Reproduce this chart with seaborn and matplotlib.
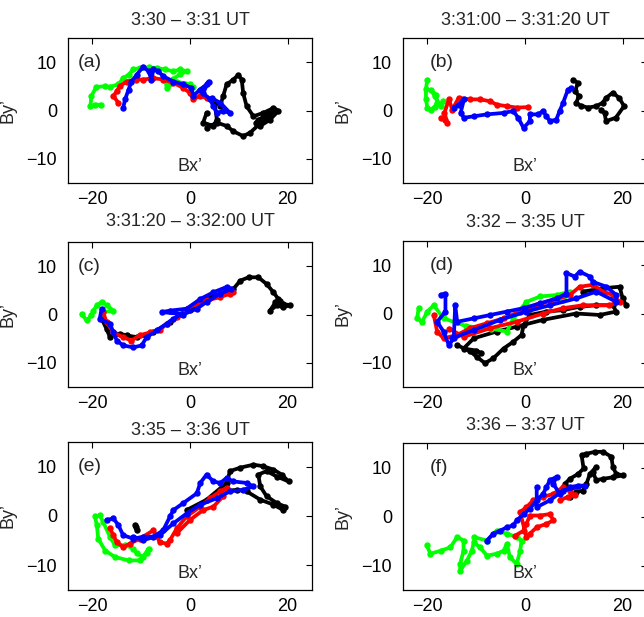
import numpy as np
import matplotlib
matplotlib.use("Agg")
import matplotlib.pyplot as plt
import seaborn as sns

# hodogram data, (Bx', By') pairs per spacecraft colour
A_BLACK = np.array([(3.4, -0.5), (2.7, -2.5), (4.8, -3.2), (5.5, -1.9), (5.0, 2.0), (6.2, 1.0), (6.8, 3.0), (7.5, 5.4),
                    (8.9, 6.4), (9.9, 7.4), (10.6, 6.4), (10.9, 3.6), (11.6, 0.9), (13.0, -1.2), (15.0, -0.5),
                    (17.1, 0.5), (18.1, -0.1), (16.4, -1.9), (14.4, -3.2), (13.5, -2.5), (16.5, -0.5), (14.0, -2.0),
                    (17.5, 0.2), (12.3, -4.6), (10.9, -5.3), (8.9, -4.3), (7.5, -3.2), (5.5, -2.5), (3.4, -3.6)])
A_GREEN = np.array([(-19.5, 1.2), (-18.2, 1.2), (-20.4, 1.0), (-20.2, 3.0), (-19.2, 4.9), (-17.5, 5.0), (-16.4, 4.9),
                    (-14.7, 5.4), (-13.7, 6.7), (-12.6, 7.4), (-11.6, 8.5), (-10.3, 8.8), (-8.5, 8.9), (-6.8, 8.8),
                    (-5.1, 8.5), (-3.4, 8.1), (-2.0, 8.5), (-0.7, 8.1), (-2.0, 7.5), (-3.5, 6.5), (-4.8, 5.4),
                    (-4.8, 4.7), (-2.7, 6.0), (-1.0, 5.5), (0.0, 5.4), (0.7, 4.8)])
A_RED = np.array([(-14.7, 1.6), (-15.7, 3.0), (-15.0, 4.0), (-14.4, 5.0), (-13.0, 6.0), (-11.0, 6.4), (-9.6, 6.4),
                  (-7.5, 6.7), (-5.5, 6.4), (-3.4, 5.7), (-1.4, 4.7), (0.0, 3.6), (0.7, 2.3), (2.0, 3.0), (3.4, 2.6)])
A_BLUE = np.array([(-13.7, 0.5), (-13.3, 2.3), (-12.6, 4.3), (-12.0, 6.0), (-10.9, 7.4), (-9.6, 9.1), (-8.5, 8.1),
                   (-7.9, 6.4), (-7.5, 8.5), (-6.5, 8.1), (-5.5, 7.1), (-3.4, 6.0), (-1.4, 5.4), (0.3, 4.7),
                   (0.7, 3.0), (2.0, 4.3), (3.4, 5.4), (3.8, 6.0), (2.7, 3.6), (4.1, 2.3), (4.8, 0.9), (5.5, -0.5),
                   (6.8, -0.1), (8.2, -0.5), (6.2, 1.6), (4.5, 2.5)])

B_BLACK = np.array([(9.8, 6.4), (10.8, 5.7), (10.3, 4.0), (11.0, 3.0), (10.5, 1.5), (11.5, 1.0), (12.9, 0.6),
                    (14.6, 0.9), (15.9, 1.6), (16.6, 2.6), (18.0, 3.7), (19.3, 2.6), (20.3, 0.9), (18.6, -1.5),
                    (16.6, -2.2), (16.3, -0.5), (15.6, 0.2)])
B_GREEN = np.array([(-20.0, 6.4), (-20.3, 4.5), (-20.3, 2.3), (-20.0, 0.6), (-19.3, 0.2), (-18.5, 0.8), (-18.0, 1.6),
                    (-18.3, 3.3), (-19.3, 4.3), (-18.5, 3.0), (-17.3, 0.9), (-16.9, 1.9)])
B_RED = np.array([(-17.3, -1.5), (-16.3, -1.9), (-15.9, -2.6), (-16.5, -0.5), (-15.6, 2.3), (-14.9, 0.2), (-13.6, 2.6),
                  (-11.2, 2.3), (-9.2, 2.3), (-7.1, 1.9), (-5.8, 1.2), (-3.7, 0.9), (-1.7, 0.6), (0.7, 0.7)])
B_BLUE = np.array([(-14.6, 0.6), (-13.6, 1.2), (-12.5, 2.3), (-13.2, -0.5), (-12.5, -1.5), (-10.5, -1.2), (-7.8, -0.8),
                   (-4.4, -0.5), (-2.4, -0.1), (-1.4, -1.5), (-0.3, -3.6), (1.0, -2.2), (1.0, -0.8), (2.7, -0.8),
                   (3.7, -0.1), (4.4, -1.2), (5.1, -2.2), (6.4, -1.9), (7.1, -0.1), (7.8, 1.6), (8.8, 4.3), (9.5, 4.7)])

C_BLACK = np.array([(-18.1, -0.9), (-17.1, -3.0), (-16.4, -4.7), (-15.4, -4.0), (-14.4, -4.0), (-13.0, -4.3),
                    (-10.9, -4.7), (-8.9, -4.3), (-7.5, -3.7), (-4.0, -1.5), (0.0, 1.0), (4.0, 3.5), (8.9, 5.3),
                    (10.3, 7.0), (12.0, 7.7), (14.0, 7.7), (15.7, 6.3), (17.1, 4.6), (18.1, 3.2), (19.1, 2.2),
                    (20.5, 1.9), (19.0, 1.5), (17.8, 1.9), (16.4, 0.8), (17.5, 2.5), (18.5, 2.8)])
C_GREEN = np.array([(-22.2, 0.1), (-21.2, -1.2), (-20.2, -0.2), (-19.8, 0.8), (-19.1, 1.9), (-18.1, 2.6), (-17.1, 1.9),
                    (-15.7, 0.8), (-17.8, 0.5)])
C_RED = np.array([(-17.8, 0.5), (-17.1, -1.6), (-15.7, -3.7), (-13.7, -4.7), (-12.0, -5.4), (-10.3, -4.3), (-8.2, -3.7),
                  (-6.2, -3.3), (-4.8, -1.9), (-2.7, -0.6), (-0.7, 1.2), (1.4, 2.2), (3.4, 2.9), (6.2, 3.6),
                  (8.2, 4.3), (8.9, 4.6)])
C_BLUE = np.array([(-18.1, 1.2), (-18.5, -0.9), (-16.4, -1.9), (-15.7, -3.7), (-15.0, -5.4), (-13.7, -6.4),
                   (-11.6, -6.8), (-9.9, -6.4), (-8.9, -4.7), (-6.8, -3.3), (-4.8, -1.9), (-3.4, -0.9), (-1.7, 0.1),
                   (-5.8, 0.5), (-4.1, 0.8), (-0.7, 1.2), (2.1, 3.2), (4.8, 4.6), (7.5, 5.7), (8.5, 5.3), (6.2, 4.3),
                   (3.4, 2.6), (1.4, 1.2), (-1.4, 0.0)])

D_BLACK = np.array([(-13.9, -6.4), (-11.2, -7.7), (-9.9, -8.8), (-8.2, -10.1), (-6.5, -9.1), (-4.4, -7.1), (-2.4, -5.7),
                    (-0.7, -4.3), (-0.3, -2.3), (1.0, -0.2), (4.4, 0.5), (7.8, 0.8), (11.2, 1.5), (14.6, 1.8),
                    (18.0, 1.8), (18.7, 0.5), (15.3, -0.2), (10.5, 0.1), (3.7, -1.2), (-1.7, -2.6), (-5.8, -3.6),
                    (-10.5, -5.0), (-12.6, -7.1), (-10.0, -7.5), (-9.0, -8.0)])
D_BLACK2 = np.array([(11.9, 4.6), (16.0, 5.3), (19.4, 5.6), (20.0, 3.2), (20.7, 1.8)])
D_GREEN = np.array([(-21.8, 1.2), (-22.1, -0.9), (-21.1, -1.6), (-20.0, 0.5), (-18.7, 1.8), (-16.7, -0.9),
                    (-12.0, -2.5), (-7.0, -3.0), (-3.7, -3.6), (-2.4, -0.9), (0.3, 2.5), (3.1, 3.6), (6.5, 3.9),
                    (9.2, 4.6), (7.8, 2.9)])
D_RED = np.array([(-18.7, -0.2), (-18.0, -3.6), (-16.7, -5.0), (-13.9, -4.3), (-11.2, -2.9), (-7.8, -1.9), (-4.4, -0.9),
                  (-1.0, 0.5), (2.4, 1.8), (5.8, 2.9), (9.2, 3.9), (11.2, 5.6), (13.9, 6.0), (16.0, 4.6), (18.0, 3.9),
                  (19.4, 2.5), (17.3, 1.8), (11.9, 1.8), (7.8, 1.2), (3.7, 0.1), (-1.7, -1.6), (-7.1, -2.9),
                  (-12.6, -4.7), (-15.5, -3.0)])
D_BLUE = np.array([(-17.3, 3.9), (-16.3, 4.2), (-16.3, 0.5), (-18.0, -1.6), (-16.7, -3.6), (-15.6, -6.4), (-14.6, -5.0),
                   (-14.3, 1.8), (-13.9, -1.6), (-10.5, -0.9), (-7.1, -0.2), (-3.7, 0.5), (-0.3, 1.2), (3.1, 2.2),
                   (6.5, 3.2), (8.5, 4.2), (8.5, 8.4), (10.2, 7.7), (11.2, 8.7), (13.3, 7.7), (13.9, 6.6), (16.7, 5.6),
                   (18.7, 3.9), (18.7, 2.5), (14.6, 4.6), (10.5, 3.2), (5.1, 1.8), (0.3, 0.5), (-5.1, -1.2),
                   (-10.5, -3.3), (-15.0, -5.0)])

E_BLACK = np.array([(-0.7, 1.2), (3.4, 3.3), (7.5, 6.7), (8.2, 9.1), (10.3, 9.8),
                    (13.0, 10.4), (15.0, 10.1), (17.1, 9.4), (18.8, 8.4), (20.2, 7.0), (17.8, 8.0), (15.7, 9.1),
                    (14.0, 8.4), (14.4, 6.0), (15.7, 4.0), (17.8, 2.6), (19.5, 1.9), (19.1, 1.2), (17.1, 2.3),
                    (14.4, 3.3), (11.6, 5.0), (9.6, 5.3), (6.2, 5.0)])
E_BLACK2 = np.array([(-11.3, -1.8), (-10.9, -2.9), (-11.0, -2.2)])
E_GREEN = np.array([(-19.5, -0.1), (-19.1, -1.8), (-18.8, -4.6), (-17.4, -7.0), (-15.4, -8.3), (-12.6, -9.0),
                    (-10.3, -9.0), (-8.9, -7.6), (-8.5, -6.6), (-9.6, -8.3), (-10.9, -7.6), (-11.6, -6.6),
                    (-13.3, -5.9), (-15.4, -5.9), (-16.4, -4.2), (-17.8, -1.2), (-18.5, 0.2)])
E_RED = np.array([(-16.4, -2.5), (-15.7, -3.9), (-15.0, -5.3), (-13.7, -6.3), (-12.3, -5.6), (-10.3, -4.6),
                  (-7.5, -2.9), (-6.2, -5.3), (-4.8, -5.6), (-4.1, -4.9), (-2.7, -2.5), (-0.7, -0.1), (2.1, 1.9),
                  (4.1, 3.6), (6.2, 5.0), (7.5, 5.7), (6.8, 4.0), (4.8, 1.9), (2.7, 1.2), (0.0, -0.8), (-2.7, -3.5)])
E_BLUE = np.array([(-17.1, -0.8), (-15.7, -0.5), (-14.7, -1.8), (-13.7, -3.9), (-11.6, -4.6), (-9.6, -4.2),
                   (-7.5, -4.2), (-5.5, -2.9), (-4.1, -0.1), (-3.4, 1.2), (-1.4, 2.6), (1.4, 4.6), (2.1, 6.7),
                   (3.4, 8.4), (4.8, 7.0), (6.2, 6.7), (7.5, 7.7), (8.9, 7.0), (11.6, 6.7), (13.0, 6.0), (10.9, 5.3),
                   (8.2, 5.0), (5.5, 3.6), (2.1, 2.3), (-0.7, 0.5), (-3.4, -1.5), (-6.2, -3.9), (-9.6, -4.9),
                   (-11.6, -4.2)])

F_BLACK = np.array([(9.2, 4.0), (10.5, 5.0), (11.9, 5.3), (12.6, 6.7), (13.3, 8.7), (14.6, 10.1), (13.9, 9.1),
                    (14.6, 7.4), (16.0, 7.7), (18.0, 8.0), (20.1, 8.4), (18.7, 8.7), (18.0, 10.1), (17.7, 12.2),
                    (16.0, 13.2), (14.3, 13.2), (12.6, 12.8), (11.6, 12.5), (12.0, 9.8), (10.9, 8.7), (9.2, 7.7),
                    (8.2, 6.7)])
F_GREEN = np.array([(-20.1, -5.9), (-19.4, -7.6), (-17.3, -7.0), (-15.3, -6.3), (-13.9, -4.2), (-12.6, -4.9),
                    (-12.6, -7.0), (-13.3, -9.7), (-13.3, -11.1), (-11.9, -9.0), (-10.9, -7.0), (-10.5, -5.3),
                    (-9.2, -6.3), (-7.8, -8.0), (-5.8, -7.6), (-4.4, -7.0), (-3.7, -5.6), (-3.1, -8.3),
                    (-1.7, -9.7), (-1.0, -7.0), (-0.7, -4.9), (-1.7, -4.2), (-3.7, -3.5), (-5.8, -2.9),
                    (-7.8, -4.9), (-10.5, -4.2)])
F_RED = np.array([(-2.0, -3.9), (-0.3, -2.9), (0.3, -1.5), (1.0, 0.2), (3.1, 0.2), (5.1, 0.5), (5.8, -0.8),
                  (4.4, -1.5), (2.4, -2.2), (1.0, -3.5), (0.3, -4.2), (-1.0, 0.9), (0.3, 1.9), (1.7, 3.3),
                  (3.7, 4.0), (5.8, 4.6), (7.8, 6.0), (9.2, 5.3), (10.2, 4.3), (8.8, 4.0), (7.1, 3.3)])
F_BLUE = np.array([(-7.8, -4.9), (-6.5, -3.5), (-5.1, -2.9), (-3.7, -2.2), (-2.4, -1.8), (-1.7, -0.8), (-0.3, 0.5),
                   (1.0, 1.6), (2.4, 3.3), (3.7, 4.6), (4.4, 6.0), (5.1, 7.4), (6.5, 8.1), (5.8, 6.7), (7.1, 4.6),
                   (9.2, 6.0), (10.9, 6.3), (12.2, 6.3), (7.8, 5.3), (5.1, 3.3), (2.4, 1.9), (2.4, 6.0)])

titles = ["3:30 \u2013 3:31 UT", "3:31:00 \u2013 3:31:20 UT", "3:31:20 \u2013 3:32:00 UT",
          "3:32 \u2013 3:35 UT", "3:35 \u2013 3:36 UT", "3:36 \u2013 3:37 UT"]
letters = ["(a)", "(b)", "(c)", "(d)", "(e)", "(f)"]
panels = [
    [(A_BLACK, "black"), (A_GREEN, "#00ff00"), (A_RED, "red"), (A_BLUE, "blue")],
    [(B_BLACK, "black"), (B_GREEN, "#00ff00"), (B_RED, "red"), (B_BLUE, "blue")],
    [(C_BLACK, "black"), (C_GREEN, "#00ff00"), (C_RED, "red"), (C_BLUE, "blue")],
    [(D_BLACK, "black"), (D_BLACK2, "black"), (D_GREEN, "#00ff00"), (D_RED, "red"), (D_BLUE, "blue")],
    [(E_BLACK, "black"), (E_BLACK2, "black"), (E_GREEN, "#00ff00"), (E_RED, "red"), (E_BLUE, "blue")],
    [(F_BLACK, "black"), (F_GREEN, "#00ff00"), (F_RED, "red"), (F_BLUE, "blue")],
]

sns.set_style("white")
plt.rcParams["font.family"] = ["Liberation Sans", "DejaVu Sans"]

W, H = 644, 617
fig = plt.figure(figsize=(W / 100, H / 100), dpi=100)

# axes boxes in pixels: left, top, right, bottom
boxes = [(68, 38, 312, 183), (403, 38, 647, 183),
         (68, 242, 312, 387), (403, 241, 647, 387),
         (68, 442, 312, 590), (403, 443, 647, 590)]
title_pads = [9.4, 9.4, 11.5, 10, 5, 9.4]

for i, (l, t, r, b) in enumerate(boxes):
    ax = fig.add_axes([l / W, 1 - b / H, (r - l) / W, (b - t) / H])
    for arr, col in panels[i]:
        sns.lineplot(x=arr[:, 0], y=arr[:, 1], sort=False, estimator=None, color=col, lw=2.7,
                     marker="o", markersize=4.6, markeredgewidth=0, ax=ax, legend=False)
    ax.set_xlim(-25, 25)
    ax.set_ylim(-15, 15)
    ax.set_xticks([-20, 0, 20])
    ax.set_yticks([-10, 0, 10])
    ax.tick_params(direction="in", length=4, width=0.8, top=True, right=True, labelsize=13, colors="black")
    ax.tick_params(axis="x", pad=6)
    ax.tick_params(axis="y", pad=8)
    for s in ax.spines.values():
        s.set_color("black")
        s.set_linewidth(0.9)
    ax.set_title(titles[i], fontsize=13, pad=title_pads[i])
    ax.set_ylabel("By\u2019", fontsize=13, labelpad=7)
    lx = -23 if i % 2 == 0 else -19.5
    ax.text(lx, 10, letters[i], fontsize=14, va="center", ha="left")
    ax.text(-2.5, -12.5, "Bx\u2019", fontsize=13, va="baseline", ha="left")

fig.savefig("out.png", dpi=100)
